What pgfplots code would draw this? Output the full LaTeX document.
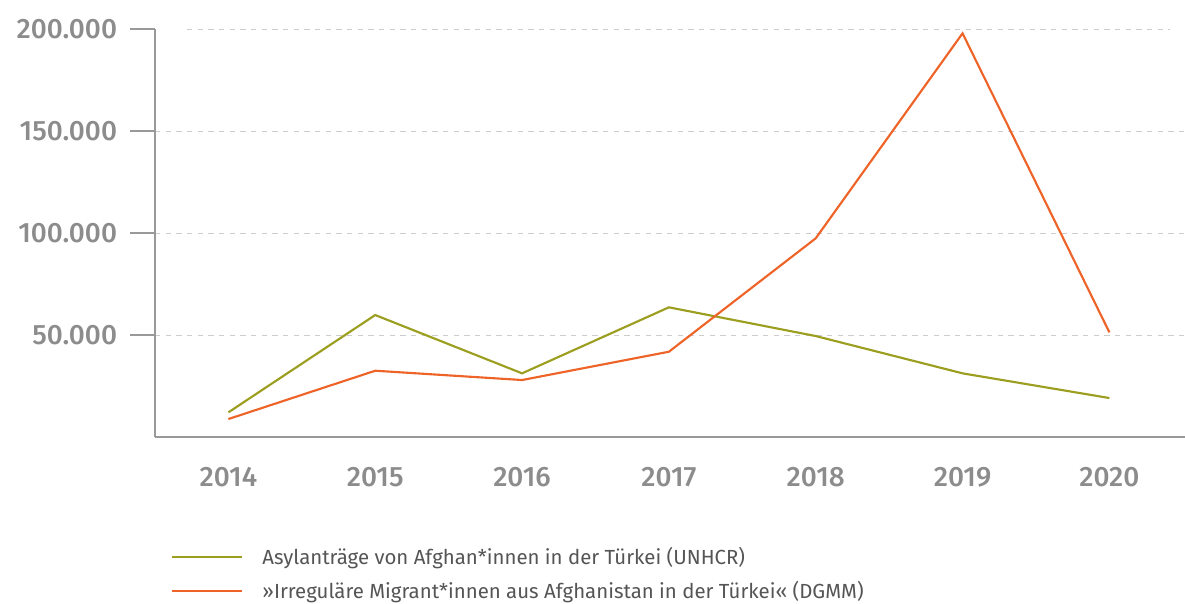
\documentclass[border=0pt]{standalone}
\usepackage{fontspec}
\setmainfont{Fira Sans}
\newfontfamily\tickfont{Fira Sans}[UprightFont=* Medium]
\usepackage{pgfplots}
\pgfplotsset{compat=1.18}
\definecolor{asylgreen}{HTML}{9B9E1F}
\definecolor{migorange}{HTML}{EE6428}
\definecolor{axisgrey}{HTML}{999999}
\definecolor{labelgrey}{HTML}{8C8C8C}
\definecolor{gridgrey}{HTML}{CCCCCC}
\definecolor{legtext}{HTML}{555555}
\begin{document}
\begin{tikzpicture}
\useasboundingbox (-116.25pt,-124.3pt) rectangle (772.5pt,328pt);
\begin{axis}[
  at={(0pt,0pt)}, anchor=south west,
  scale only axis, width=772.5pt, height=306pt,
  xmin=2013.5, xmax=2020.515, ymin=0, ymax=200000,
  scaled y ticks=false,
  axis lines*=left,
  axis line style={axisgrey, line width=1.5pt},
  xtick={2014,2015,2016,2017,2018,2019,2020},
  xticklabels={2014,2015,2016,2017,2018,2019,2020},
  ytick={50000,100000,150000,200000},
  yticklabels={50.000,100.000,150.000,200.000},
  tick align=outside, major tick length=18.75pt,
  x tick style={draw=none},
  y tick style={axisgrey, line width=1.5pt},
  ticklabel style={font=\tickfont\fontsize{21}{25}\selectfont, text=labelgrey},
  yticklabel style={anchor=east, inner sep=0pt, xshift=-9.5pt},
  xticklabel style={anchor=base, inner sep=0pt, yshift=-18pt},
  ymajorgrids,
  grid style={gridgrey, line width=0.75pt, dash pattern=on 4pt off 4pt, shorten <=24pt, shorten >=11.25pt},
  clip=false,
  legend style={at={(0.0153,-0.262)}, anchor=north west, draw=none, fill=none,
    font=\fontsize{15.3}{18}\selectfont, text=legtext, row sep=7pt,
    inner sep=0pt, /tikz/every odd column/.append style={column sep=12.5pt}},
  legend cell align=left,
  legend image code/.code={\draw[#1] (0pt,0pt) -- (52.5pt,0pt);},
]
\addplot[asylgreen, line width=1.6pt] coordinates {
  (2014,12250) (2015,59950) (2016,31370) (2017,63730) (2018,49650) (2019,31370) (2020,19260)};
\addlegendentry{Asylanträge von Afghan*innen in der Türkei (UNHCR)}
\addplot[migorange, line width=1.6pt] coordinates {
  (2014,8970) (2015,32650) (2016,28090) (2017,41960) (2018,97550) (2019,198040) (2020,51470)};
\addlegendentry{»Irreguläre Migrant*innen aus Afghanistan in der Türkei« (DGMM)}
\end{axis}
\end{tikzpicture}
\end{document}
